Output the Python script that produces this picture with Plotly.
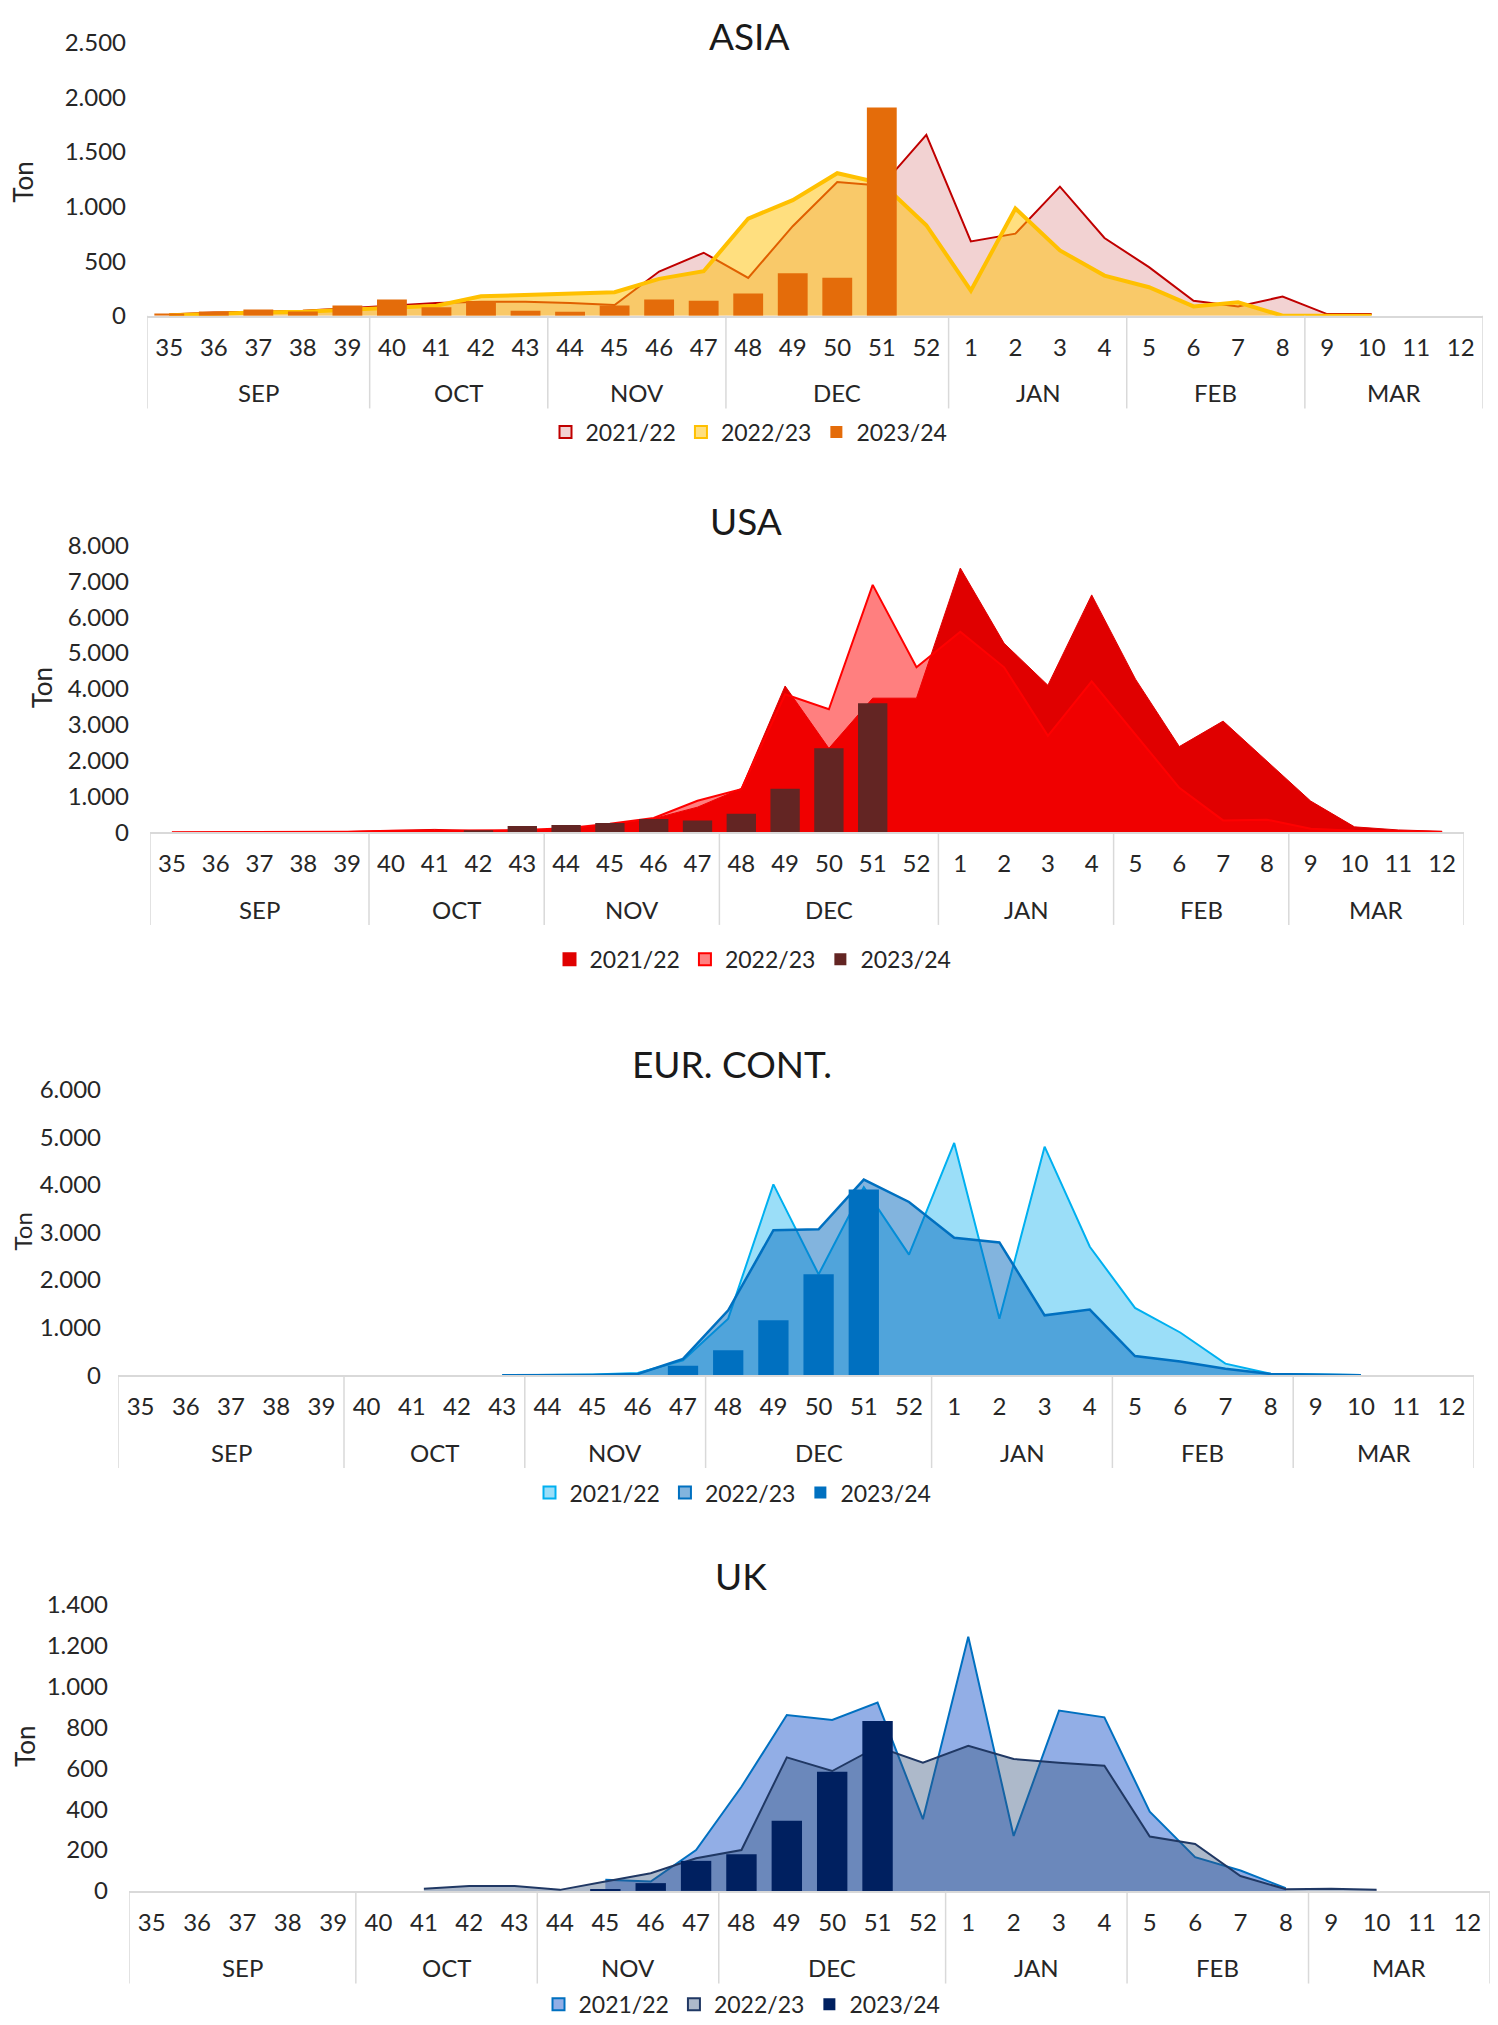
import plotly.graph_objects as go

W, H = 1498, 2025

weeks = ["35", "36", "37", "38", "39", "40", "41", "42", "43", "44", "45", "46", "47",
         "48", "49", "50", "51", "52", "1", "2", "3", "4", "5", "6", "7", "8", "9", "10", "11", "12"]
month_names = ["SEP", "OCT", "NOV", "DEC", "JAN", "FEB", "MAR"]
month_weeks = [5, 4, 4, 5, 4, 4, 4]
seasons = ["2021/22", "2022/23", "2023/24"]

N = None
asia_2122 = [12, 30, 37, 46, 68, 92, 117, 129, 129, 117, 98, 405, 577, 347, 820, 1225, 1190, 1657,
             681, 752, 1182, 712, 445, 138, 86, 175, 15, 15, N, N]
asia_2223 = [5, 21, 30, 37, 55, 74, 92, 178, 193, 203, 215, 338, 408, 890, 1059, 1305, 1212, 829,
             230, 982, 598, 368, 261, 86, 123, 0, 0, 0, N, N]
asia_2324 = [21, 40, 58, 40, 95, 150, 77, 132, 46, 37, 95, 150, 138, 203, 390, 347, 1908, N,
             N, N, N, N, N, N, N, N, N, N, N, N]

usa_2122 = [0, 0, 5, 10, 20, 50, 80, 40, 60, 90, 220, 380, 700, 1220, 4080, 2340, 3740, 3740,
            7370, 5270, 4100, 6620, 4270, 2390, 3100, 1990, 870, 150, 65, 28]
usa_2223 = [0, 0, 0, 5, 15, 40, 50, 50, 60, 110, 240, 400, 880, 1200, 3850, 3430, 6900, 4600,
            5590, 4600, 2690, 4210, 2730, 1240, 330, 350, 100, 45, 28, 10]
usa_2324 = [N, N, N, N, N, N, N, 56, 177, 205, 261, 373, 326, 513, 1212, 2340, 3600, N,
            N, N, N, N, N, N, N, N, N, N, N, N]

eur_2122 = [N, N, N, N, N, N, N, N, 0, 5, 20, 50, 315, 1190, 4010, 2120, 3950, 2535,
            4880, 1190, 4800, 2700, 1415, 900, 245, 35, 20, 7, N, N]
eur_2223 = [N, N, N, N, N, N, N, N, 0, 3, 10, 30, 345, 1365, 3046, 3067, 4110, 3640,
            2890, 2790, 1260, 1380, 406, 290, 140, 30, 15, 5, N, N]
eur_2324 = [N, N, N, N, N, N, N, N, N, N, N, N, 203, 525, 1155, 2122, 3900, N,
            N, N, N, N, N, N, N, N, N, N, N, N]

uk_2122 = [N, N, N, N, N, N, N, N, N, N, 55, 46, 200, 510, 861, 837, 922, 351,
           1245, 269, 883, 850, 388, 165, 100, 13, N, N, N, N]
uk_2223 = [N, N, N, N, N, N, 10, 24, 24, 5, 46, 86, 160, 200, 654, 587, 706, 628,
           711, 646, 628, 613, 266, 230, 73, 8, 11, 5, N, N]
uk_2324 = [N, N, N, N, N, N, N, N, N, N, 5, 38, 147, 179, 343, 584, 832, N,
           N, N, N, N, N, N, N, N, N, N, N, N]

FONT = "Lato"
TXT = "#262626"
GRID = "#D9D9D9"

panels = [
    dict(title="ASIA", data=(asia_2122, asia_2223, asia_2324), ymax=2500, dtick=500,
         px=(139, 1475, 296, 19), title_px=(741, 12), ton_px=(15, 161, 26), leg_px=(741, 414),
         ystand=20,
         fill1="#F2D2D2", line1=dict(color="#C00000", width=2),
         fill2="rgba(255,192,0,0.5)", line2=dict(color="#FFC000", width=4),
         leg2fill="#FFDF80", bar="#E46C0A"),
    dict(title="USA", data=(usa_2122, usa_2223, usa_2324), ymax=8000, dtick=1000,
         px=(142, 1456, 820, 529), title_px=(738, 504), ton_px=(34, 674, 26), leg_px=(745, 949),
         ystand=20,
         fill1="#E00000", line1=dict(color="#E00000", width=1),
         fill2="rgba(255,0,0,0.5)", line2=dict(color="#FF0000", width=2),
         leg2fill="#FF8080", bar="#632523"),
    dict(title="EUR. CONT.", data=(eur_2122, eur_2223, eur_2324), ymax=6000, dtick=1000,
         px=(110, 1466, 1371, 1081), title_px=(724, 1055), ton_px=(14, 1225, 24), leg_px=(725, 1490),
         ystand=16,
         fill1="#9BDEF8", line1=dict(color="#00B0F0", width=2),
         fill2="rgba(5,105,189,0.5)", line2=dict(color="#0070C0", width=2.5),
         leg2fill="#82B4DE", bar="#0070C0"),
    dict(title="UK", data=(uk_2122, uk_2223, uk_2324), ymax=1400, dtick=200,
         px=(121, 1482, 1894, 1604), title_px=(733, 1574), ton_px=(17, 1748, 26), leg_px=(734, 2009),
         ystand=20,
         fill1="#92AEE6", line1=dict(color="#0070C0", width=2),
         fill2="rgba(50,80,122,0.4)", line2=dict(color="#203864", width=2),
         leg2fill="#ADB9CA", bar="#002060"),
]

fig = go.Figure()
annotations = []
shapes = []
layout = {}

# month group boundaries (in category index units) derived from month_weeks
bounds = [-0.5]
for n in month_weeks:
    bounds.append(bounds[-1] + n)

for i, p in enumerate(panels):
    k = i + 1
    ko = i + 5
    xa = "x" if k == 1 else f"x{k}"
    ya = "y" if k == 1 else f"y{k}"
    xo, yo = f"x{ko}", f"y{ko}"
    leg = "legend" if k == 1 else f"legend{k}"
    d1, d2, d3 = p["data"]

    # areas (base axes, drawn below bars)
    fig.add_trace(go.Scatter(x=weeks, y=d1, name=seasons[0], mode="lines", fill="tozeroy",
                             fillcolor=p["fill1"], line=p["line1"], xaxis=xa, yaxis=ya,
                             showlegend=False, hoverinfo="skip"))
    fig.add_trace(go.Scatter(x=weeks, y=d2, name=seasons[1], mode="lines", fill="tozeroy",
                             fillcolor=p["fill2"], line=p["line2"], xaxis=xa, yaxis=ya,
                             showlegend=False, hoverinfo="skip"))
    # legend swatches for the area series
    fig.add_trace(go.Bar(x=[None], y=[None], name=seasons[0], xaxis=xo, yaxis=yo, legend=leg,
                         marker=dict(color=p["fill1"], line=dict(color=p["line1"]["color"], width=2)),
                         hoverinfo="skip"))
    fig.add_trace(go.Bar(x=[None], y=[None], name=seasons[1], xaxis=xo, yaxis=yo, legend=leg,
                         marker=dict(color=p["leg2fill"], line=dict(color=p["line2"]["color"], width=2)),
                         hoverinfo="skip"))
    # bars (overlay axes, drawn on top)
    fig.add_trace(go.Bar(x=weeks, y=d3, name=seasons[2], xaxis=xo, yaxis=yo, legend=leg,
                         marker=dict(color=p["bar"], line=dict(width=0)), hoverinfo="skip"))

    x0, x1, yz, yt = p["px"]
    dom_x = [x0 / W, x1 / W]
    dom_y = [1 - yz / H, 1 - yt / H]
    xname = "xaxis" if k == 1 else f"xaxis{k}"
    yname = "yaxis" if k == 1 else f"yaxis{k}"
    layout[xname] = dict(domain=dom_x, anchor=ya, type="category", categoryorder="array",
                         categoryarray=weeks, range=[-0.5, 29.5],
                         showline=True, linecolor=GRID, linewidth=2, ticklabelstandoff=9,
                         tickfont=dict(family=FONT, size=24, color=TXT), showgrid=False,
                         ticks="", zeroline=False)
    layout[yname] = dict(domain=dom_y, anchor=xa, range=[0, p["ymax"]], dtick=p["dtick"],
                         tick0=0, tickformat=",d", showgrid=False, zeroline=False,
                         showline=False, ticks="", ticklabelstandoff=p["ystand"],
                         tickfont=dict(family=FONT, size=24, color=TXT))
    layout[f"xaxis{ko}"] = dict(domain=dom_x, anchor=yo, overlaying=xa, type="category",
                                categoryorder="array", categoryarray=weeks,
                                range=[-0.5, 29.5], visible=False)
    layout[f"yaxis{ko}"] = dict(domain=dom_y, anchor=xo, overlaying=ya, range=[0, p["ymax"]],
                                visible=False)
    lx, ly = p["leg_px"]
    layout[leg] = dict(x=lx / W, y=1 - ly / H, xanchor="center", yanchor="middle",
                       orientation="h", font=dict(family=FONT, size=23, color=TXT),
                       bgcolor="rgba(0,0,0,0)", itemwidth=30, tracegroupgap=0,
                       traceorder="normal")

    # month labels and group dividers
    for j, m in enumerate(month_names):
        annotations.append(dict(text=m, x=(bounds[j] + bounds[j + 1]) / 2, xref=xa,
                                y=1 - (yz + 78) / H, yref="paper", showarrow=False,
                                xanchor="center", yanchor="middle",
                                font=dict(family=FONT, size=24, color=TXT)))
    for b in bounds:
        shapes.append(dict(type="line", xref=xa, yref="paper", x0=b, x1=b,
                           y0=1 - yz / H, y1=1 - (yz + 94) / H,
                           line=dict(color=GRID, width=1.5)))

    tx, ty = p["title_px"]
    annotations.append(dict(text=p["title"], x=tx / W, y=1 - ty / H, xref="paper", yref="paper",
                            xanchor="center", yanchor="middle", showarrow=False,
                            font=dict(family=FONT, size=37, color="#1a1a1a")))
    nx, ny, ns = p["ton_px"]
    annotations.append(dict(text="Ton", x=nx / W, y=1 - ny / H, xref="paper", yref="paper",
                            xanchor="center", yanchor="middle", showarrow=False, textangle=-90,
                            font=dict(family=FONT, size=ns, color=TXT)))

fig.update_layout(width=W, height=H, margin=dict(l=0, r=0, t=0, b=0),
                  paper_bgcolor="white", plot_bgcolor="white", separators=",.",
                  barmode="overlay", bargap=0.33, annotations=annotations, shapes=shapes,
                  **layout)

fig.write_html("out.html")
